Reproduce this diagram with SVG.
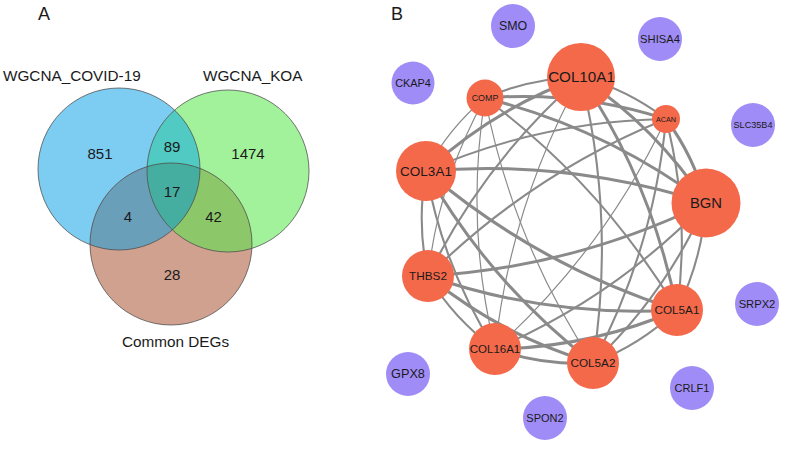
<svg xmlns="http://www.w3.org/2000/svg" width="787" height="449" viewBox="0 0 787 449">
<style>
text{font-family:"Liberation Sans",Arial,sans-serif;fill:#1a1a1a}
.venn{font-size:15.3px}
.num{font-size:15px;text-anchor:middle}
.panel{font-size:18px}
.ring{fill:none;stroke:#4a4a4a;stroke-opacity:0.75;stroke-width:1}
.e{fill:none;stroke:#8a8a8a;stroke-linecap:round}
.w1{stroke-width:1.2}
.w2{stroke-width:2.1}
.w3{stroke-width:3}
.hub{fill:#F4694A}
.iso{fill:#A08CF6}
.lbl{text-anchor:middle}
</style>
<defs>
<clipPath id="cb"><circle cx="119" cy="169" r="81"/></clipPath>
<clipPath id="cg"><circle cx="228" cy="171" r="81"/></clipPath>
<clipPath id="cr"><circle cx="171" cy="244" r="81"/></clipPath>
</defs>

<g id="panel-labels">
<text class="panel" x="38" y="20">A</text>
<text class="panel" x="391" y="20">B</text>
</g>

<g id="venn">
<circle cx="119" cy="169" r="81" fill="#7DCCF2"/>
<circle cx="228" cy="171" r="81" fill="#A2F29B"/>
<circle cx="171" cy="244" r="81" fill="#D1A190"/>
<g clip-path="url(#cb)"><circle cx="228" cy="171" r="81" fill="#50CAC2"/></g>
<g clip-path="url(#cb)"><circle cx="171" cy="244" r="81" fill="#6A9FBA"/></g>
<g clip-path="url(#cg)"><circle cx="171" cy="244" r="81" fill="#8CC86A"/></g>
<g clip-path="url(#cb)"><g clip-path="url(#cg)"><circle cx="171" cy="244" r="81" fill="#46AEA1"/></g></g>
<circle class="ring" cx="119" cy="169" r="81"/>
<circle class="ring" cx="228" cy="171" r="81"/>
<circle class="ring" cx="171" cy="244" r="81"/>
<text class="venn" x="3" y="80.5">WGCNA_COVID-19</text>
<text class="venn" x="203" y="80.5">WGCNA_KOA</text>
<text class="venn" x="122" y="347">Common DEGs</text>
<text class="num" x="100" y="159">851</text>
<text class="num" x="172" y="151.5">89</text>
<text class="num" x="248" y="159">1474</text>
<text class="num" x="172" y="196.5">17</text>
<text class="num" x="128" y="221.5">4</text>
<text class="num" x="213.5" y="221.5">42</text>
<text class="num" x="172" y="280">28</text>
</g>

<g id="connectors">
<path class="e w2" d="M581,77 Q627.7,89.5 666,119"/>
<path class="e w3" d="M581,77 Q656.1,127.5 706,203"/>
<path class="e w3" d="M581,77 Q652.3,183.9 677,310"/>
<path class="e w2" d="M581,77 Q615.6,218.8 593,363"/>
<path class="e w1" d="M581,77 Q510.8,204.4 495,349"/>
<path class="e w2" d="M581,77 Q484.6,161.2 428,276"/>
<path class="e w3" d="M581,77 Q494.1,108.5 426,171"/>
<path class="e w2" d="M581,77 Q530.9,77.9 485,98"/>
<path class="e w3" d="M666,119 Q694.4,157 706,203"/>
<path class="e w2" d="M666,119 Q690.6,213.4 677,310"/>
<path class="e w2" d="M666,119 Q653.9,248.3 593,363"/>
<path class="e w1" d="M666,119 Q603.5,251.1 495,349"/>
<path class="e w2" d="M666,119 Q531.3,173.7 428,276"/>
<path class="e w2" d="M666,119 Q540.8,121 426,171"/>
<path class="e w3" d="M666,119 Q577.6,90.4 485,98"/>
<path class="e w2" d="M706,203 Q702.2,259.4 677,310"/>
<path class="e w2" d="M706,203 Q665.5,294.3 593,363"/>
<path class="e w2" d="M706,203 Q615.1,297.1 495,349"/>
<path class="e w3" d="M706,203 Q574.3,267.3 428,276"/>
<path class="e w3" d="M706,203 Q569.2,159 426,171"/>
<path class="e w3" d="M706,203 Q606,128.4 485,98"/>
<path class="e w2" d="M677,310 Q640.3,344.9 593,363"/>
<path class="e w3" d="M677,310 Q589.9,347.7 495,349"/>
<path class="e w3" d="M677,310 Q549.1,317.9 428,276"/>
<path class="e w3" d="M677,310 Q537.6,265.6 426,171"/>
<path class="e w2" d="M677,310 Q602.2,184.8 485,98"/>
<path class="e w3" d="M593,363 Q542.6,365.8 495,349"/>
<path class="e w3" d="M593,363 Q501.8,336 428,276"/>
<path class="e w3" d="M593,363 Q490.3,283.7 426,171"/>
<path class="e w1" d="M593,363 Q512.5,241.3 485,98"/>
<path class="e w2" d="M495,349 Q454.2,319.2 428,276"/>
<path class="e w2" d="M495,349 Q442.7,266.9 426,171"/>
<path class="e w1" d="M495,349 Q464.9,224.5 485,98"/>
<path class="e w2" d="M428,276 Q416.5,223.7 426,171"/>
<path class="e w1" d="M428,276 Q438.7,181.3 485,98"/>
<path class="e w1" d="M426,171 Q448.2,128.6 485,98"/>
</g>

<g id="COL10A1"><circle class="hub" cx="581" cy="77" r="34"/><text class="lbl" x="581.5" y="77" dy="0.35em" font-size="15.2">COL10A1</text></g>
<g id="ACAN"><circle class="hub" cx="666" cy="119" r="14"/><text class="lbl" x="666" y="119" dy="0.35em" font-size="7.2">ACAN</text></g>
<g id="BGN"><circle class="hub" cx="706" cy="203" r="34.5"/><text class="lbl" x="706" y="203" dy="0.35em" font-size="14.8">BGN</text></g>
<g id="COL5A1"><circle class="hub" cx="677" cy="310" r="26"/><text class="lbl" x="677" y="310" dy="0.35em" font-size="11.7">COL5A1</text></g>
<g id="COL5A2"><circle class="hub" cx="593" cy="363" r="26"/><text class="lbl" x="593" y="363" dy="0.35em" font-size="11.7">COL5A2</text></g>
<g id="COL16A1"><circle class="hub" cx="495" cy="349" r="26"/><text class="lbl" x="495" y="349" dy="0.35em" font-size="11.5">COL16A1</text></g>
<g id="THBS2"><circle class="hub" cx="428" cy="276" r="26"/><text class="lbl" x="428" y="276" dy="0.35em" font-size="11.8">THBS2</text></g>
<g id="COL3A1"><circle class="hub" cx="426" cy="171" r="30"/><text class="lbl" x="426" y="171" dy="0.35em" font-size="13.5">COL3A1</text></g>
<g id="COMP"><circle class="hub" cx="485" cy="98" r="18.5"/><text class="lbl" x="485" y="98" dy="0.35em" font-size="8.9">COMP</text></g>

<g id="SMO"><circle class="iso" cx="513" cy="26" r="22"/><text class="lbl" x="513" y="26" dy="0.35em" font-size="12.4">SMO</text></g>
<g id="SHISA4"><circle class="iso" cx="660" cy="39" r="22"/><text class="lbl" x="660" y="39" dy="0.35em" font-size="11.2">SHISA4</text></g>
<g id="CKAP4"><circle class="iso" cx="413" cy="83" r="21.5"/><text class="lbl" x="413" y="83" dy="0.35em" font-size="10.9">CKAP4</text></g>
<g id="SLC35B4"><circle class="iso" cx="753" cy="125" r="22"/><text class="lbl" x="753" y="125" dy="0.35em" font-size="9.1">SLC35B4</text></g>
<g id="SRPX2"><circle class="iso" cx="757" cy="304" r="22"/><text class="lbl" x="757" y="304" dy="0.35em" font-size="11.2">SRPX2</text></g>
<g id="GPX8"><circle class="iso" cx="408" cy="374" r="22"/><text class="lbl" x="408" y="374" dy="0.35em" font-size="12.7">GPX8</text></g>
<g id="CRLF1"><circle class="iso" cx="692" cy="388" r="22"/><text class="lbl" x="692" y="388" dy="0.35em" font-size="11">CRLF1</text></g>
<g id="SPON2"><circle class="iso" cx="545" cy="418" r="22"/><text class="lbl" x="545" y="418" dy="0.35em" font-size="11">SPON2</text></g>
</svg>
